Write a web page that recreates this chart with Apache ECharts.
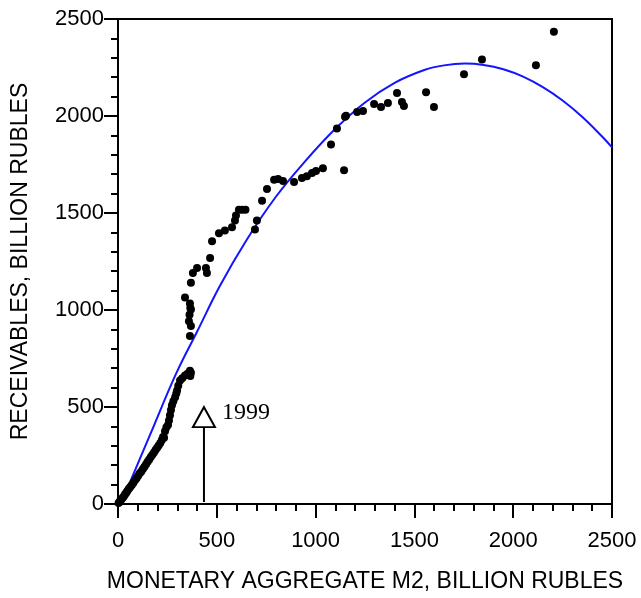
<!DOCTYPE html>
<html>
<head>
<meta charset="utf-8">
<script src="https://cdn.jsdelivr.net/npm/echarts@6/dist/echarts.min.js"></script>
<style>html,body{margin:0;padding:0;background:#fff}#c{width:641px;height:598px}</style>
</head>
<body>
<div id="c"></div>
<script>
// Observed points: M2 (billion rubles) vs receivables (billion rubles)
var m2 = [3,8,12,18,24,30,36,42,48,55,62,70,78,86,94,102,110,118,126,134,142,150,158,166,174,182,190,198,206,214,222,228,
  233,238,245,253,258,263,268,273,280,289,295,299,305,314,325,339,352,364,369,366,
  364,369,359,362,366,369,364,339,369,
  379,400,445,450,466,476,511,541,577,592,597,612,628,645,693,703,729,754,
  790,810,835,891,931,956,982,1002,1037,1078,1108,1144,1149,1154,1210,1240,1296,1331,1366,1412,1437,1447,
  1559,1599,1751,1842,2115,2206];
var receivables = [5,10,18,25,32,40,50,58,68,78,88,98,110,122,133,145,158,168,180,192,205,218,230,242,254,266,278,290,302,314,330,345,
  341,375,395,407,430,458,485,509,530,550,570,585,610,636,648,662,672,687,677,660,
  866,917,942,975,1010,1003,1034,1064,1140,
  1191,1217,1217,1191,1268,1354,1395,1410,1426,1461,1487,1517,1517,1517,1415,1461,1563,1624,
  1672,1675,1665,1660,1680,1690,1706,1716,1731,1853,1935,1721,1996,2001,2021,2026,2062,2047,2067,2118,2072,2052,
  2123,2047,2215,2291,2261,2434];
// Fitted trend curve
var fitX = [15,71,162,294,400,516,650,800,950,1100,1250,1400,1550,1650,1756,1850,1950,2050,2150,2250,2350,2450,2500];
var fitY = [0,137,356,672,888,1125,1360,1585,1770,1934,2070,2171,2237,2261,2270,2263,2241,2203,2149,2080,1995,1894,1838];
// Arrow annotation (1999)
var arrowX = [435,435];
var arrowY = [10,400];
var arrowHead = [435,448];
var arrowText = '1999';
var xTicks = [0,500,1000,1500,2000,2500];
var yTicks = [0,500,1000,1500,2000,2500];

var pts = m2.map(function(x,i){return [x, receivables[i]];});
var fit = fitX.map(function(x,i){return [x, fitY[i]];});
var arrow = arrowX.map(function(x,i){return [x, arrowY[i]];});

var axisCommon = {
  type:'value', min:xTicks[0], max:xTicks[xTicks.length-1], interval:500,
  splitLine:{show:false},
  axisLine:{show:true, onZero:false, lineStyle:{color:'#000', width:2}},
  axisTick:{show:true, inside:false, length:14, lineStyle:{color:'#000', width:2}},
  minorTick:{show:true, splitNumber:5, length:7, lineStyle:{color:'#000', width:2}},
  axisLabel:{color:'#000', fontFamily:'Liberation Sans', fontSize:22, formatter:function(v){return String(v);}},
  nameTextStyle:{color:'#000', fontFamily:'Liberation Sans', fontSize:23},
  nameLocation:'middle'
};
var chart = echarts.init(document.getElementById('c'));
chart.setOption({
  animation:false,
  backgroundColor:'#fff',
  grid:{left:118, right:29, top:19, bottom:88, show:true, borderColor:'#000', borderWidth:2},
  xAxis:Object.assign({}, axisCommon, {name:'MONETARY AGGREGATE M2, BILLION RUBLES', nameGap:66,
    axisLabel:Object.assign({}, axisCommon.axisLabel, {margin:26})}),
  yAxis:Object.assign({}, axisCommon, {min:yTicks[0], max:yTicks[yTicks.length-1], name:'RECEIVABLES, BILLION RUBLES', nameGap:86,
    axisLabel:Object.assign({}, axisCommon.axisLabel, {margin:14})}),
  series:[
    {type:'line', data:fit, symbol:'none', smooth:0.4, lineStyle:{color:'#1414ff', width:2}, z:3},
    {type:'scatter', data:pts, symbol:'circle', symbolSize:8, itemStyle:{color:'#000', opacity:1}, z:4},
    {type:'line', data:arrow, symbol:'none', lineStyle:{color:'#000', width:2}, z:5},
    {type:'scatter', data:[arrowHead], symbol:'triangle', symbolSize:[22,20],
      itemStyle:{color:'#fff', borderColor:'#000', borderWidth:2, opacity:1}, z:6,
      label:{show:true, position:'right', distance:6, formatter:arrowText, color:'#000',
        fontFamily:'Liberation Serif', fontSize:24, offset:[0,-4]}}
  ]
});
</script>
</body>
</html>
